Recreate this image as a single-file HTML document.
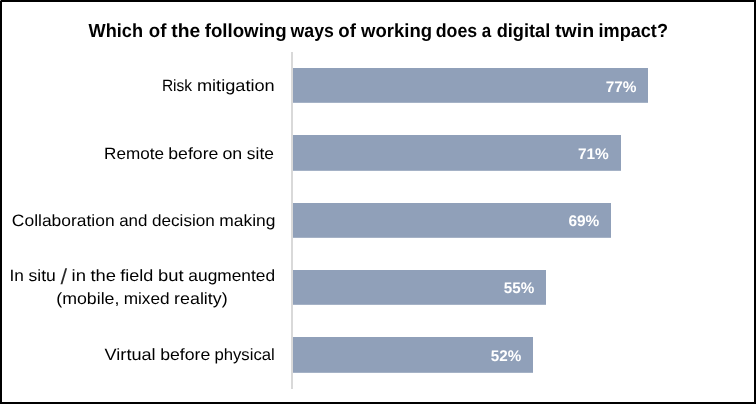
<!DOCTYPE html>
<html lang="en">
<head>
<meta charset="utf-8">
<title>Which of the following ways of working does a digital twin impact?</title>
<style>
  html, body { margin: 0; padding: 0; background: #ffffff; }
  body { width: 756px; height: 404px; overflow: hidden; }
  svg { display: block; }
  text { font-family: "Liberation Sans", sans-serif; white-space: pre; text-rendering: geometricPrecision; }
  .title { font-weight: bold; font-size: 18.9px; fill: #000000; }
  .cat { font-size: 16.4px; fill: #000000; }
  .val { font-weight: bold; font-size: 15.4px; fill: #ffffff; }
  .bar { fill: #90a0b9; }
</style>
</head>
<body>
<svg width="756" height="404" viewBox="0 0 756 404">
  <!-- chart frame -->
  <rect x="0" y="0" width="756" height="404" fill="#000000"/>
  <rect x="2" y="2" width="752" height="400" fill="#ffffff"/>
  <rect x="0" y="0" width="1" height="1" fill="#8a8a8a"/>

  <!-- vertical axis -->
  <rect x="291" y="52" width="2" height="337" fill="#d9d9d9"/>

  <!-- bars -->
  <rect class="bar" x="293" y="68"  width="355" height="34.8"/>
  <rect class="bar" x="293" y="135" width="328" height="35.8"/>
  <rect class="bar" x="293" y="203" width="318" height="34.8"/>
  <rect class="bar" x="293" y="270" width="253" height="34.8"/>
  <rect class="bar" x="293" y="337" width="240" height="35.8"/>

  <!-- title -->
  <text class="title" y="36.6"><tspan x="88.6" textLength="54.38" lengthAdjust="spacingAndGlyphs">Which</tspan> <tspan x="148.87" textLength="17.63" lengthAdjust="spacingAndGlyphs">of</tspan> <tspan x="171.34" textLength="28.9" lengthAdjust="spacingAndGlyphs">the</tspan> <tspan x="204.67" textLength="82.02" lengthAdjust="spacingAndGlyphs">following</tspan> <tspan x="290.57" textLength="43.32" lengthAdjust="spacingAndGlyphs">ways</tspan> <tspan x="338.33" textLength="17.63" lengthAdjust="spacingAndGlyphs">of</tspan> <tspan x="361.09" textLength="70.97" lengthAdjust="spacingAndGlyphs">working</tspan> <tspan x="435.75" textLength="41.45" lengthAdjust="spacingAndGlyphs">does</tspan> <tspan x="481.68" textLength="9.46" lengthAdjust="spacingAndGlyphs">a</tspan> <tspan x="496.66" textLength="53.6" lengthAdjust="spacingAndGlyphs">digital</tspan> <tspan x="555.06" textLength="39.03" lengthAdjust="spacingAndGlyphs">twin</tspan> <tspan x="598.54" textLength="69.44" lengthAdjust="spacingAndGlyphs">impact?</tspan></text>
  <!-- category labels -->
  <text class="cat" y="90.8"><tspan x="161.89" textLength="30.22" lengthAdjust="spacingAndGlyphs">Risk</tspan> <tspan x="196.91" textLength="77.81" lengthAdjust="spacingAndGlyphs">mitigation</tspan></text>
  <text class="cat" y="158.6"><tspan x="104.06" textLength="59.94" lengthAdjust="spacingAndGlyphs">Remote</tspan> <tspan x="168.31" textLength="50.08" lengthAdjust="spacingAndGlyphs">before</tspan> <tspan x="222.45" textLength="19.78" lengthAdjust="spacingAndGlyphs">on</tspan> <tspan x="246.84" textLength="27.07" lengthAdjust="spacingAndGlyphs">site</tspan></text>
  <text class="cat" y="225.6"><tspan x="11.88" textLength="102.77" lengthAdjust="spacingAndGlyphs">Collaboration</tspan> <tspan x="119.18" textLength="28.24" lengthAdjust="spacingAndGlyphs">and</tspan> <tspan x="151.97" textLength="62.82" lengthAdjust="spacingAndGlyphs">decision</tspan> <tspan x="219.35" textLength="56.13" lengthAdjust="spacingAndGlyphs">making</tspan></text>
  <text class="cat" y="281.4"><tspan x="9.45" textLength="14.4" lengthAdjust="spacingAndGlyphs">In</tspan> <tspan x="28.47" textLength="27.32" lengthAdjust="spacingAndGlyphs">situ</tspan> <tspan x="60.61" dy="2.9" font-size="21.6" fill="#2a2a2a" textLength="6.6" lengthAdjust="spacingAndGlyphs">/</tspan> <tspan x="71.58" dy="-2.9" textLength="14.42" lengthAdjust="spacingAndGlyphs">in</tspan> <tspan x="90.44" textLength="25.59" lengthAdjust="spacingAndGlyphs">the</tspan> <tspan x="120.24" textLength="33.11" lengthAdjust="spacingAndGlyphs">field</tspan> <tspan x="157.99" textLength="25.56" lengthAdjust="spacingAndGlyphs">but</tspan> <tspan x="188.36" textLength="86.71" lengthAdjust="spacingAndGlyphs">augmented</tspan></text>
  <text class="cat" y="304.4"><tspan x="56.27" textLength="63.12" lengthAdjust="spacingAndGlyphs">(mobile,</tspan> <tspan x="123.7" textLength="45.86" lengthAdjust="spacingAndGlyphs">mixed</tspan> <tspan x="174.11" textLength="53.52" lengthAdjust="spacingAndGlyphs">reality)</tspan></text>
  <text class="cat" y="359.6"><tspan x="104.6" textLength="51.02" lengthAdjust="spacingAndGlyphs">Virtual</tspan> <tspan x="160.22" textLength="50.08" lengthAdjust="spacingAndGlyphs">before</tspan> <tspan x="214.45" textLength="60.36" lengthAdjust="spacingAndGlyphs">physical</tspan></text>
  <!-- data labels -->
  <text class="val" x="605.72" y="92.0" textLength="30.8" lengthAdjust="spacingAndGlyphs">77%</text>
  <text class="val" x="577.92" y="159.0" textLength="30.8" lengthAdjust="spacingAndGlyphs">71%</text>
  <text class="val" x="568.42" y="226.0" textLength="30.9" lengthAdjust="spacingAndGlyphs">69%</text>
  <text class="val" x="503.86" y="293.0" textLength="30.45" lengthAdjust="spacingAndGlyphs">55%</text>
  <text class="val" x="490.86" y="361.0" textLength="30.45" lengthAdjust="spacingAndGlyphs">52%</text>
</svg>
</body>
</html>
